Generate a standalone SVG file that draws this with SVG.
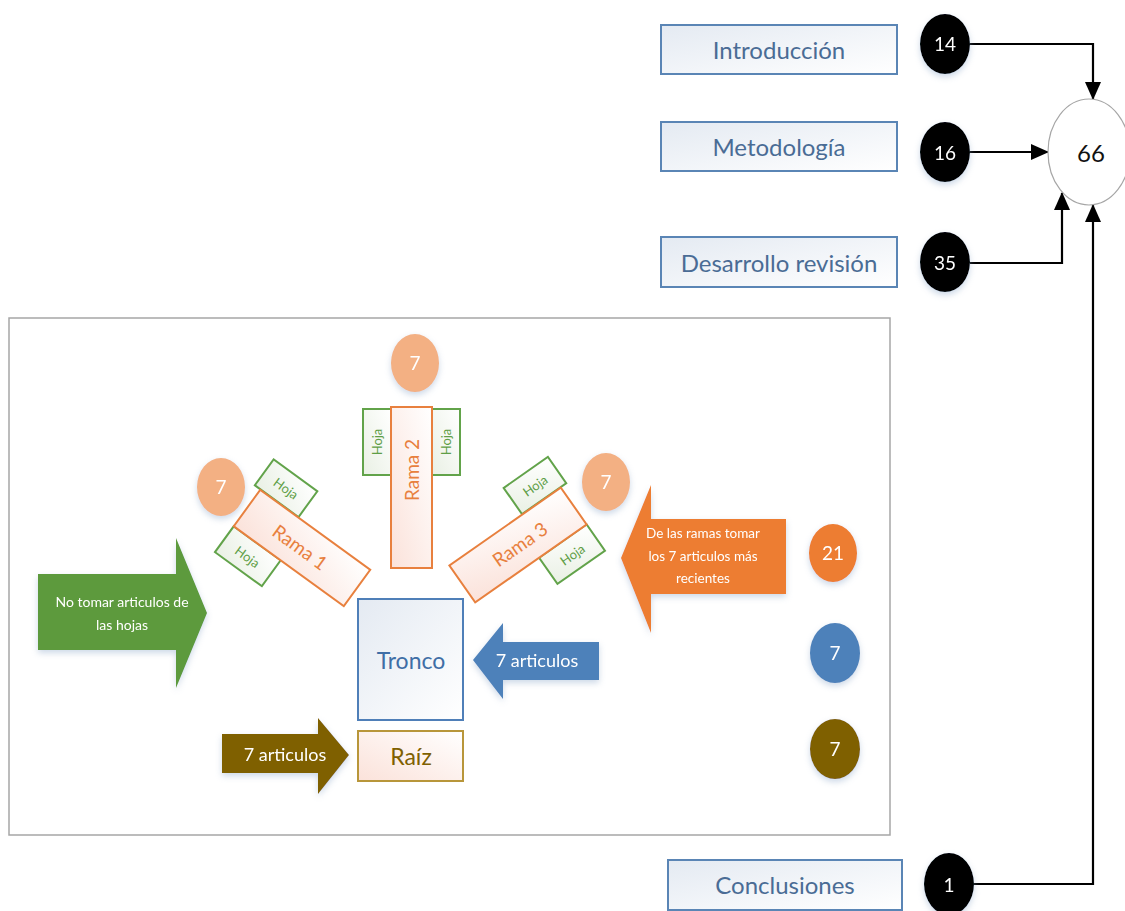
<svg xmlns="http://www.w3.org/2000/svg" width="1125" height="911" viewBox="0 0 1125 911">
<defs>
<style>
text{font-family:Lato,"Liberation Sans",sans-serif;text-anchor:middle;dominant-baseline:central}
.tbox{fill:url(#gBlue);stroke:#5A85B5;stroke-width:2}
.tlab{fill:#4A6C95;font-size:24px}
.blk{fill:#000}
.wn{fill:#fff;font-size:19px}
.conn{fill:none;stroke:#000;stroke-width:2.2}
.rama{fill:url(#gPink);stroke:#E8803E;stroke-width:2}
.rlab{fill:#E8803E;font-size:19px}
.hoja{fill:url(#gGreen);stroke:#62A34A;stroke-width:2}
.hlab{fill:#5E9E46;font-size:13px}
.lo{fill:#F3B083}
.sh{filter:url(#shd)}
</style>
<linearGradient id="gBlue" x1="0" y1="0" x2="1" y2="1"><stop offset="0" stop-color="#E4EAF2"/><stop offset="1" stop-color="#FFFFFF"/></linearGradient>
<linearGradient id="gPink" x1="0" y1="1" x2="1" y2="0"><stop offset="0" stop-color="#FBE2DA"/><stop offset="1" stop-color="#FFFFFF"/></linearGradient>
<linearGradient id="gGreen" x1="0" y1="1" x2="1" y2="0"><stop offset="0" stop-color="#E9F0E4"/><stop offset="1" stop-color="#FFFFFF"/></linearGradient>
<filter id="shd" x="-20%" y="-20%" width="140%" height="150%"><feDropShadow dx="0" dy="3" stdDeviation="3" flood-color="#8FA9CC" flood-opacity="0.45"/></filter>
<marker id="ah" viewBox="0 0 18 16" refX="17" refY="8" markerWidth="18" markerHeight="16" markerUnits="userSpaceOnUse" orient="auto"><path d="M0,0 L18,8 L0,16 Z" fill="#000"/></marker>
</defs>
<rect width="1125" height="911" fill="#fff"/>

<g id="frame"><rect x="9" y="318" width="881" height="517" fill="#fff" stroke="#A6A6A6" stroke-width="1.5"/></g>

<g id="connectors">
<path class="conn" d="M970,44 H1093 V99" marker-end="url(#ah)"/>
<path class="conn" d="M970,152 H1048" marker-end="url(#ah)"/>
<path class="conn" d="M970,263 H1062 V193" marker-end="url(#ah)"/>
<path class="conn" d="M974,884 H1093 V205" marker-end="url(#ah)"/>
</g>

<g id="introduccion"><rect class="tbox" x="661" y="25" width="236" height="49"/><text class="tlab" x="779" y="49">Introducción</text></g>
<g id="metodologia"><rect class="tbox" x="661" y="122" width="236" height="49"/><text class="tlab" x="779" y="146">Metodología</text></g>
<g id="desarrollo"><rect class="tbox" x="661" y="237" width="236" height="50"/><text class="tlab" x="779" y="262">Desarrollo revisión</text></g>
<g id="conclusiones"><rect class="tbox" x="668" y="860" width="234" height="50"/><text class="tlab" x="785" y="884">Conclusiones</text></g>

<g id="n14" class="sh"><ellipse class="blk" cx="945" cy="44" rx="25" ry="30"/><text class="wn" x="945" y="43" font-size="18">14</text></g>
<g id="n16" class="sh"><ellipse class="blk" cx="945" cy="152" rx="25" ry="30"/><text class="wn" x="945" y="152" font-size="18">16</text></g>
<g id="n35" class="sh"><ellipse class="blk" cx="945" cy="262" rx="25" ry="30"/><text class="wn" x="945" y="262" font-size="18">35</text></g>
<g id="n1" class="sh"><ellipse class="blk" cx="949" cy="884" rx="25" ry="31"/><text class="wn" x="949" y="884" font-size="18">1</text></g>
<g id="total"><ellipse cx="1089" cy="152" rx="41" ry="53" fill="#fff" stroke="#A6A6A6" stroke-width="1.2"/><text x="1091" y="152" font-size="24" fill="#111">66</text></g>

<g id="rama2">
<rect class="hoja" x="363" y="409" width="28" height="66"/>
<text class="hlab" transform="translate(377,442) rotate(-90)">Hoja</text>
<rect class="hoja" x="432" y="409" width="28" height="66"/>
<text class="hlab" transform="translate(446,442) rotate(-90)">Hoja</text>
<rect class="rama" x="391" y="407" width="41" height="161"/>
<text class="rlab" transform="translate(411,470) rotate(-90)">Rama 2</text>
</g>

<g id="rama1" transform="translate(302,548) rotate(36)">
<rect class="hoja" x="-75" y="-55" width="54" height="32"/>
<text class="hlab" x="-48" y="-39">Hoja</text>
<rect class="hoja" x="-68" y="22.5" width="58" height="32"/>
<text class="hlab" x="-39" y="39">Hoja</text>
<rect class="rama" x="-68" y="-22.5" width="136" height="45"/>
<text class="rlab" x="-2" y="0">Rama 1</text>
</g>

<g id="rama3" transform="translate(518,545) rotate(-35)">
<rect class="hoja" x="21" y="-55" width="54" height="32"/>
<text class="hlab" x="48" y="-39">Hoja</text>
<rect class="hoja" x="10" y="22.5" width="58" height="32"/>
<text class="hlab" x="39" y="39">Hoja</text>
<rect class="rama" x="-68" y="-22.5" width="136" height="45"/>
<text class="rlab" x="2" y="0">Rama 3</text>
</g>

<g id="c7a" class="sh"><ellipse class="lo" cx="415" cy="363" rx="24" ry="29"/><text class="wn" x="415" y="362">7</text></g>
<g id="c7b" class="sh"><ellipse class="lo" cx="221" cy="487" rx="24" ry="29"/><text class="wn" x="221" y="486">7</text></g>
<g id="c7c" class="sh"><ellipse class="lo" cx="606" cy="482" rx="24" ry="29"/><text class="wn" x="606" y="481">7</text></g>

<g id="tronco"><rect x="358" y="599" width="105" height="121" fill="url(#gBlue)" stroke="#4F7FB8" stroke-width="2"/><text x="411" y="660" font-size="23" fill="#3F6EA6">Tronco</text></g>
<g id="raiz"><rect x="358" y="731" width="105" height="50" fill="url(#gPink)" stroke="#B8963A" stroke-width="2"/><text x="411" y="756" font-size="23" fill="#7F6000">Raíz</text></g>

<g id="arrowHojas" class="sh"><path d="M38,574 H176 V538 L207,613 L176,688 V650 H38 Z" fill="#5D9A3C"/>
<text x="122" y="601" font-size="14" fill="#fff">No tomar articulos de</text><text x="122" y="624" font-size="14" fill="#fff">las hojas</text></g>

<g id="arrowRaiz" class="sh"><path d="M222,734 H318 V718 L349,755 L318,794 V773 H222 Z" fill="#7F6000"/>
<text x="285" y="754" font-size="18" fill="#fff">7 articulos</text></g>

<g id="arrowTronco" class="sh"><path d="M599,642 H503 V623 L473,660 L503,699 V680 H599 Z" fill="#4E81BA"/>
<text x="537" y="660" font-size="18" fill="#fff">7 articulos</text></g>

<g id="arrowRamas" class="sh"><path d="M786,519 H651 V485 L621,558 L651,633 V594 H786 Z" fill="#ED7D31"/>
<text x="703" y="533" font-size="13.5" fill="#fff">De las ramas tomar</text>
<text x="703" y="556" font-size="13.5" fill="#fff">los 7 articulos más</text>
<text x="703" y="578" font-size="13.5" fill="#fff">recientes</text></g>

<g id="c21" class="sh"><ellipse cx="833" cy="553" rx="24" ry="29" fill="#ED7D31"/><text class="wn" x="833" y="552">21</text></g>
<g id="c7blue" class="sh"><ellipse cx="835" cy="653" rx="25" ry="30" fill="#4E81BA"/><text class="wn" x="835" y="652">7</text></g>
<g id="c7brown" class="sh"><ellipse cx="835" cy="749" rx="25" ry="30" fill="#7F6000"/><text class="wn" x="835" y="748">7</text></g>
</svg>
